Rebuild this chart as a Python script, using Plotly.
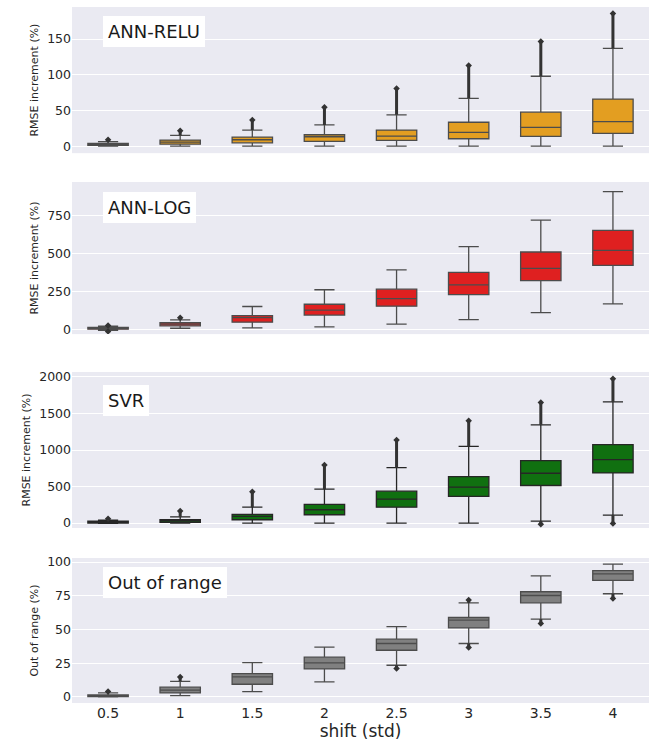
import plotly.graph_objects as go
from plotly.subplots import make_subplots

shifts = ["0.5", "1", "1.5", "2", "2.5", "3", "3.5", "4"]

# ANN-RELU
relu_q1 = [1.0, 2.8, 4.7, 6.6, 8.0, 10.4, 13.7, 17.9]
relu_med = [2.5, 5.7, 9.0, 13.2, 14.2, 19.3, 26.4, 34.4]
relu_q3 = [4.0, 8.5, 12.7, 16.0, 22.6, 33.5, 47.6, 66.0]
relu_lo = [0, 0, 0, 0, 0, 0, 0, 0]
relu_hi = [6.5, 15.0, 22.6, 29.7, 43.9, 67.0, 98.0, 137.0]
relu_out_hi = [9, 21.7, 36.8, 54.7, 80.7, 113, 146.7, 186]
relu_out_lo = [None] * 8

# ANN-LOG
log_q1 = [0, 22, 46, 93, 152, 228, 322, 422]
log_med = [5, 33, 76, 126, 202, 293, 402, 522]
log_q3 = [12, 43, 89, 165, 265, 376, 511, 654]
log_lo = [-8, 6, 9, 15, 33, 63, 109, 167]
log_hi = [20, 61, 150, 261, 393, 546, 722, 911]
log_out_hi = [24, 75, None, None, None, None, None, None]
log_out_lo = [-15, None, None, None, None, None, None, None]

# SVR
svr_q1 = [0, 9, 45, 114, 218, 364, 514, 686]
svr_med = [10, 30, 91, 182, 327, 491, 682, 868]
svr_q3 = [25, 45, 118, 255, 436, 636, 855, 1073]
svr_lo = [-5, 0, 0, 0, 0, 0, 27, 109]
svr_hi = [40, 85, 218, 464, 759, 1050, 1345, 1659]
svr_out_hi = [60, 165, 427, 795, 1136, 1400, 1650, 1977]
svr_out_lo = [None, None, None, None, None, None, -18, -5]

# Out of range
oor_q1 = [0.3, 3.0, 9.4, 20.8, 34.6, 51.2, 69.8, 86.4]
oor_med = [0.8, 5.0, 14.8, 25.2, 39.6, 56.9, 75.2, 91.3]
oor_q3 = [1.5, 7.2, 17.3, 29.5, 42.8, 58.9, 78.0, 93.6]
oor_lo = [0, 1.0, 4.0, 11.1, 23.5, 39.6, 57.7, 76.5]
oor_hi = [3.0, 11.6, 25.5, 37.0, 52.2, 69.8, 89.8, 98.5]
oor_out_hi = [4.0, 14.8, None, None, None, 71.8, None, None]
oor_out_lo = [None, None, None, None, 21.0, 36.6, 54.5, 73.0]

panels = [
    dict(name="ANN-RELU", q1=relu_q1, med=relu_med, q3=relu_q3, lo=relu_lo, hi=relu_hi,
         ohi=relu_out_hi, olo=relu_out_lo, fill="#E39E21", line="#4C4C4C",
         yrange=[-9.8, 195], dtick=50, ytitle="RMSE increment (%)"),
    dict(name="ANN-LOG", q1=log_q1, med=log_med, q3=log_q3, lo=log_lo, hi=log_hi,
         ohi=log_out_hi, olo=log_out_lo, fill="#DF2020", line="#4C4C4C",
         yrange=[-33, 975], dtick=250, ytitle="RMSE increment (%)"),
    dict(name="SVR", q1=svr_q1, med=svr_med, q3=svr_q3, lo=svr_lo, hi=svr_hi,
         ohi=svr_out_hi, olo=svr_out_lo, fill="#107010", line="#262626",
         yrange=[-68, 2068], dtick=500, ytitle="RMSE increment (%)"),
    dict(name="Out of range", q1=oor_q1, med=oor_med, q3=oor_q3, lo=oor_lo, hi=oor_hi,
         ohi=oor_out_hi, olo=oor_out_lo, fill="#808080", line="#4C4C4C",
         yrange=[-4.5, 103], dtick=25, ytitle="Out of range (%)"),
]

fig = make_subplots(rows=4, cols=1)

domains = [[0.790, 1.0], [0.530, 0.7486], [0.2514, 0.4756], [0.0, 0.2083]]
label_y = [0.83, 0.832, 0.82, 0.828]

for i, p in enumerate(panels):
    r = i + 1
    fig.add_trace(go.Box(
        x=shifts, q1=p["q1"], median=p["med"], q3=p["q3"],
        lowerfence=p["lo"], upperfence=p["hi"],
        boxpoints=False, fillcolor=p["fill"],
        line=dict(color=p["line"], width=1.3), whiskerwidth=0.5,
        showlegend=False, hoverinfo="skip"), row=r, col=1)
    # outlier runs
    xs, ys, mx, my = [], [], [], []
    for s, fence, o in zip(shifts, p["hi"], p["ohi"]):
        if o is not None:
            xs += [s, s, None]
            ys += [fence, o, None]
            mx.append(s)
            my.append(o)
    for s, fence, o in zip(shifts, p["lo"], p["olo"]):
        if o is not None:
            xs += [s, s, None]
            ys += [fence, o, None]
            mx.append(s)
            my.append(o)
    fig.add_trace(go.Scatter(x=xs, y=ys, mode="lines",
                             line=dict(color="#333333", width=3),
                             showlegend=False, hoverinfo="skip"), row=r, col=1)
    fig.add_trace(go.Scatter(x=mx, y=my, mode="markers",
                             marker=dict(symbol="diamond", size=5, color="#333333"),
                             showlegend=False, hoverinfo="skip"), row=r, col=1)

    fig.update_yaxes(domain=domains[i], range=p["yrange"], dtick=p["dtick"],
                     gridcolor="white", gridwidth=1, zeroline=False,
                     showline=False, ticks="",
                     tickfont=dict(size=12.5, color="#262626"),
                     title=dict(text=p["ytitle"], font=dict(size=11, color="#262626"),
                                standoff=6),
                     automargin=False, row=r, col=1)
    fig.update_xaxes(type="category", categoryorder="array", categoryarray=shifts,
                     range=[-0.5, 7.5], showgrid=False, zeroline=False,
                     showline=False, ticks="", showticklabels=(r == 4),
                     tickfont=dict(size=14, color="#262626"),
                     automargin=False, row=r, col=1)
    yref = "y domain" if r == 1 else f"y{r} domain"
    xref = "x domain" if r == 1 else f"x{r} domain"
    fig.add_annotation(text=p["name"], xref=xref, yref=yref, x=0.054, y=label_y[i],
                       xanchor="left", yanchor="middle", showarrow=False,
                       font=dict(size=18, color="#1a1a1a"),
                       bgcolor="white", bordercolor="white", borderpad=4)

fig.update_xaxes(title=dict(text="shift (std)", font=dict(size=17, color="#262626"),
                            standoff=4), row=4, col=1)

fig.update_layout(
    width=656, height=744,
    margin=dict(l=72, r=7, t=7, b=41),
    paper_bgcolor="white", plot_bgcolor="#EAEAF2",
    font=dict(family="DejaVu Sans", color="#262626"),
    boxgap=0.2,
)

fig.write_html("out.html", config={"displayModeBar": False},
               post_script="document.body.style.margin='0';")
